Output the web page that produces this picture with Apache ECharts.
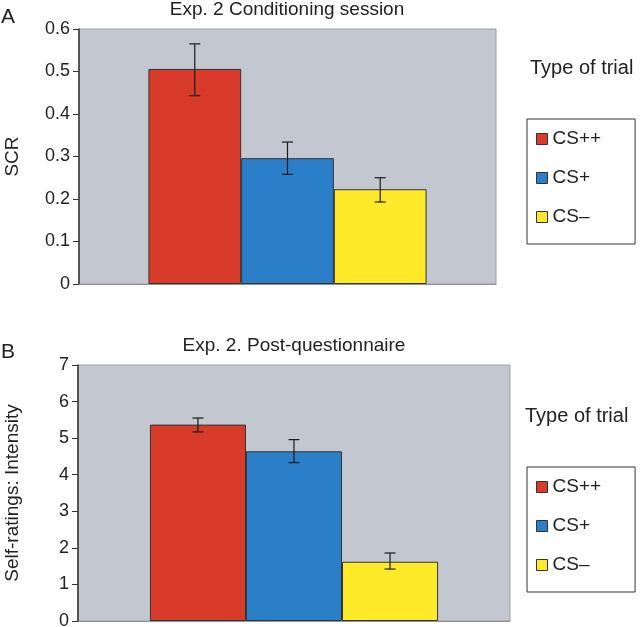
<!DOCTYPE html>
<html>
<head>
<meta charset="utf-8">
<script src="https://cdn.jsdelivr.net/npm/echarts@6/dist/echarts.min.js"></script>
<style>
  html, body { margin: 0; padding: 0; background: #fff; }
  #main { width: 640px; height: 627px; }
</style>
</head>
<body>
<div id="main"></div>
<script>
// trial types, shared by both panels
const trialTypes = ['CS++', 'CS+', 'CS\u2013'];
const barColors = ['#d93b2b', '#2a7fc8', '#ffea2a'];

// panel A: SCR, conditioning session
const scrMean = [0.506, 0.296, 0.223];
const scrLow = [0.443, 0.258, 0.193];
const scrHigh = [0.565, 0.334, 0.250];
const scrTicks = [0, 0.1, 0.2, 0.3, 0.4, 0.5, 0.6];

// panel B: self-ratings, post-questionnaire
const rateMean = [5.37, 4.64, 1.62];
const rateLow = [5.17, 4.33, 1.42];
const rateHigh = [5.55, 4.96, 1.86];
const rateTicks = [0, 1, 2, 3, 4, 5, 6, 7];

const FONT = '"Liberation Sans", Arial, Helvetica, sans-serif';
const CAT_GAP = 0.333;

var chart = echarts.init(document.getElementById('main'), null, { renderer: 'canvas' });

function barSeries(idx, vals) {
  return trialTypes.map(function (name, i) {
    return {
      name: name,
      type: 'bar',
      xAxisIndex: idx,
      yAxisIndex: idx,
      barGap: 0,
      barCategoryGap: '33.3%',
      data: [vals[i]],
      itemStyle: { color: barColors[i], borderColor: '#333', borderWidth: 1 },
      emphasis: { disabled: true }
    };
  });
}

// error bars drawn at each bar's centre, using the category band width
function errorSeries(idx, low, high) {
  return {
    name: 'err' + idx,
    type: 'custom',
    xAxisIndex: idx,
    yAxisIndex: idx,
    z: 10,
    encode: { x: 0, y: [2, 3] },
    data: trialTypes.map(function (t, i) { return [0, i, low[i], high[i]]; }),
    renderItem: function (params, api) {
      const k = api.value(1);
      const band = api.size([1, 0])[0];
      const bw = band * (1 - CAT_GAP) / 3;
      const lo = api.coord([0, api.value(2)]);
      const hi = api.coord([0, api.value(3)]);
      const cx = lo[0] + (k - 1) * bw;
      const cap = 5.5;
      const st = { stroke: '#1a1a1a', lineWidth: 1.2 };
      return {
        type: 'group',
        children: [
          { type: 'line', shape: { x1: cx, y1: lo[1], x2: cx, y2: hi[1] }, style: st },
          { type: 'line', shape: { x1: cx - cap, y1: lo[1], x2: cx + cap, y2: lo[1] }, style: st },
          { type: 'line', shape: { x1: cx - cap, y1: hi[1], x2: cx + cap, y2: hi[1] }, style: st }
        ]
      };
    }
  };
}

function yAxis(idx, ticks, name, gap) {
  return {
    type: 'value',
    gridIndex: idx,
    min: ticks[0],
    max: ticks[ticks.length - 1],
    interval: ticks[1] - ticks[0],
    name: name,
    nameLocation: 'middle',
    nameGap: gap,
    nameTextStyle: { fontFamily: FONT, fontSize: 19, color: '#222' },
    axisLine: { show: true, lineStyle: { color: '#333', width: 1.5 } },
    axisTick: { show: true, length: 6, lineStyle: { color: '#333' } },
    axisLabel: { fontFamily: FONT, fontSize: 18, color: '#222', margin: 9 },
    splitLine: { show: false }
  };
}

function xAxis(idx) {
  return {
    type: 'category',
    gridIndex: idx,
    data: ['trial'],
    axisLine: { show: true, lineStyle: { color: '#8e9196' } },
    axisTick: { show: false },
    axisLabel: { show: false }
  };
}

function legend(top) {
  return {
    data: trialTypes,
    orient: 'vertical',
    left: 527,
    top: top,
    padding: [9, 34, 16, 9],
    itemGap: 17,
    itemWidth: 11,
    itemHeight: 11,
    icon: 'rect',
    borderColor: '#333',
    borderWidth: 1,
    backgroundColor: '#fff',
    itemStyle: { borderColor: '#333', borderWidth: 1 },
    textStyle: { fontFamily: FONT, fontSize: 19, color: '#222', lineHeight: 22 },
    selectedMode: false
  };
}

function label(text, x, y, size, align) {
  return {
    type: 'text',
    x: x,
    y: y,
    style: { text: text, font: size + 'px ' + FONT, fill: '#222', align: align || 'left', verticalAlign: 'middle' }
  };
}

var option = {
  animation: false,
  backgroundColor: '#fff',
  grid: [
    { left: 79, top: 29, width: 417, height: 255, outerBoundsMode: 'none', containLabel: false,
      show: true, backgroundColor: '#c3c7cf', borderColor: '#9a9da3', borderWidth: 1 },
    { left: 78, top: 365, width: 432, height: 256, outerBoundsMode: 'none', containLabel: false,
      show: true, backgroundColor: '#c3c7cf', borderColor: '#9a9da3', borderWidth: 1 }
  ],
  xAxis: [xAxis(0), xAxis(1)],
  yAxis: [yAxis(0, scrTicks, 'SCR', 57), yAxis(1, rateTicks, 'Self-ratings: Intensity', 56)],
  legend: [legend(119), legend(467)],
  graphic: [
    label('A', 1, 17, 21),
    label('Exp. 2 Conditioning session', 287, 10, 19, 'center'),
    label('Type of trial', 530, 68, 20),
    label('B', 1, 352, 21),
    label('Exp. 2. Post-questionnaire', 294, 346, 19, 'center'),
    label('Type of trial', 525, 416, 20)
  ],
  series: []
    .concat(barSeries(0, scrMean))
    .concat(barSeries(1, rateMean))
    .concat([errorSeries(0, scrLow, scrHigh), errorSeries(1, rateLow, rateHigh)])
};

chart.setOption(option);
</script>
</body>
</html>
